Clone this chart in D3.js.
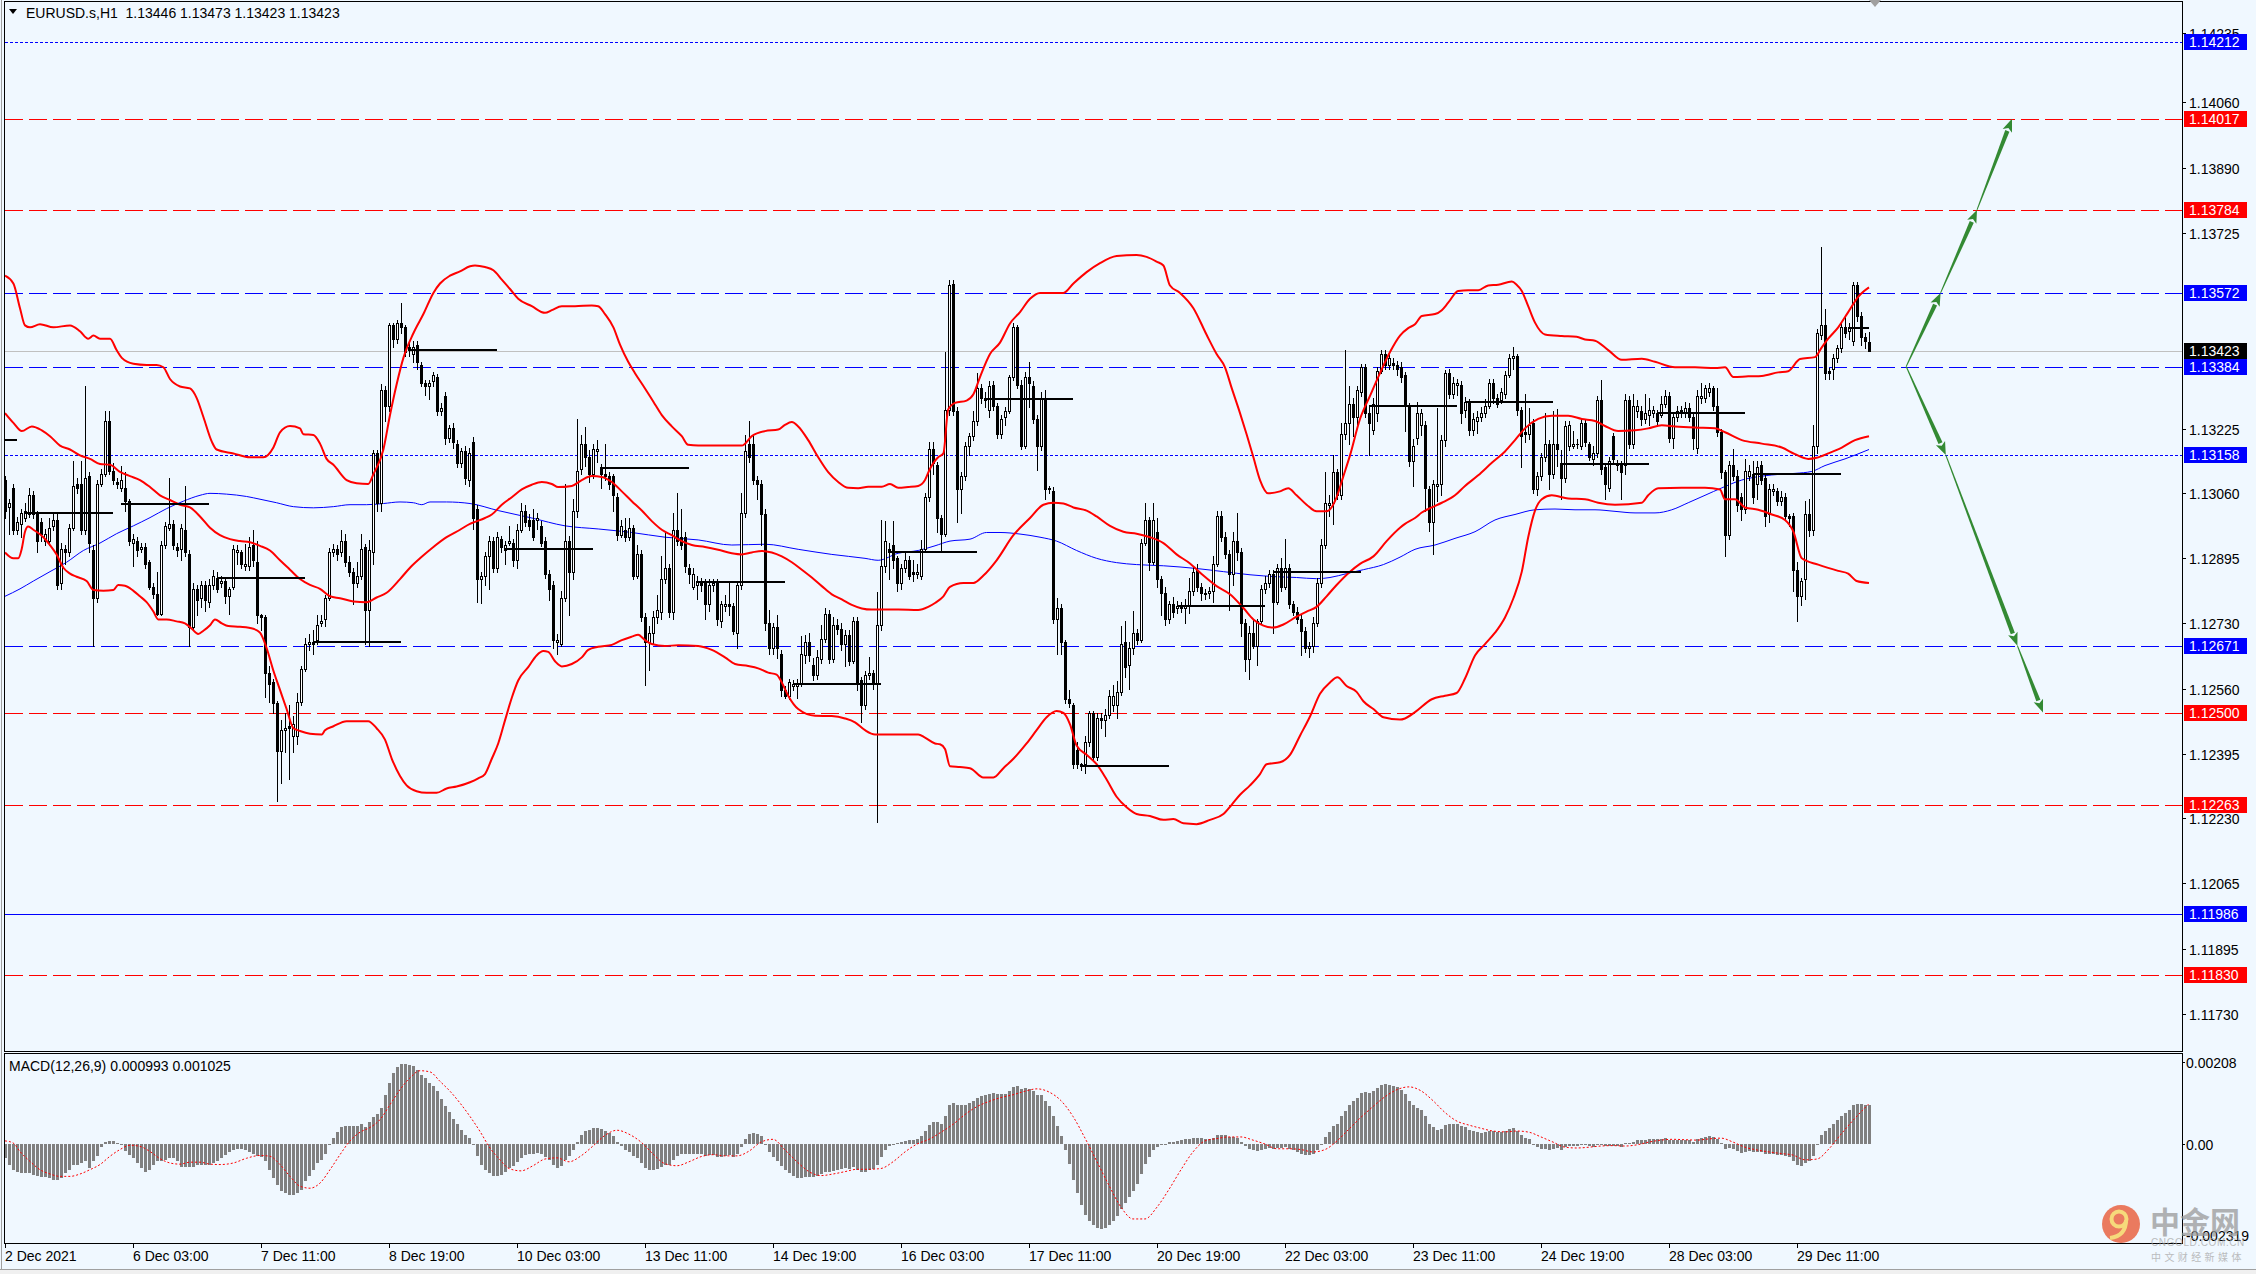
<!DOCTYPE html>
<html><head><meta charset="utf-8">
<script src="https://cdn.jsdelivr.net/npm/d3@7/dist/d3.min.js"></script>
<style>
html,body{margin:0;padding:0;background:#F0F8FF;overflow:hidden}
svg{display:block}
</style></head><body>
<svg id="chart" width="2256" height="1274"></svg>
<script>
// ---------------- DATA ----------------
const BASE = 1.12, PIP = 0.0001;            // candle / indicator values are pips above BASE
const titleText = "EURUSD.s,H1  1.13446 1.13473 1.13423 1.13423";
const macdTitle = "MACD(12,26,9) 0.000993 0.001025";
const priceTicks = [1.14235,1.14060,1.13890,1.13725,1.13225,1.13060,1.12895,1.12730,1.12560,1.12395,1.12230,1.12065,1.11895,1.11730];
const levelPrices = [1.14212,1.14017,1.13784,1.13572,1.13384,1.13158,1.12671,1.12500,1.12263,1.11986,1.11830];
const levelKinds  = ["blueDot","redDash","redDash","blueDash","blueDash","blueDot","blueDash","redDash","redDash","blueSolid","redDash"];
const lastPrice = 1.13423;
const timeTickBars = [0,32,64,96,128,160,192,224,256,288,320,352,384,416,448];
const timeLabels = ["2 Dec 2021","6 Dec 03:00","7 Dec 11:00","8 Dec 19:00","10 Dec 03:00","13 Dec 11:00","14 Dec 19:00","16 Dec 03:00","17 Dec 11:00","20 Dec 19:00","22 Dec 03:00","23 Dec 11:00","24 Dec 19:00","28 Dec 03:00","29 Dec 11:00"];
const macdTickValues = [0.00208, 0, -0.002319];
const macdTickLabels = ["0.00208","0.00","-0.002319"];

// H1 candles [open, high, low, close] in pips above 1.12000
const ohlc = [
[109.4,110.4,99.7,101.6],[102.6,104.5,95.7,103.6],[107.4,108.4,95.7,96.7],[96.7,100,95.7,98.7],[98.2,102,94.8,101.1],[99.7,103.6,99,101.6],[100.6,107.4,100,105.5],[105.5,106.5,99.7,100.6],[100.6,101.6,90.9,93.8],[98.7,99.7,93.8,95.7],
[93.8,97,92.8,95.7],[93.8,99.7,92.8,97.2],[97.7,100.6,96.7,99.2],[99.2,100.6,81.6,82.6],[83.1,93.3,81.6,91.9],[91.9,92.8,88,90.9],[90.9,98.2,90,97.2],[97.2,114.3,96.7,107.9],[108.4,110,106,107.4],[108.4,114.3,95.7,96.7],
[96.7,133.3,95.7,109.9],[110.4,111.4,90.9,93.3],[91.4,92.8,67,79.2],[79.2,109.4,78.2,108.4],[108.4,112.3,107.9,110.9],[110.9,127,110.4,124.5],[124.5,127,110.9,111.8],[111.8,113.8,108.4,109.4],[108.9,110,107.4,108.4],[107.4,113,106.5,109.4],
[107.4,111.4,101.6,104],[104,104.5,92.8,93.8],[93.3,95.7,87.5,94.3],[93.8,94.8,90,91.4],[91.9,93.3,90.9,92.3],[92.3,93.3,87,88],[88.4,88.9,81.6,82.1],[82.1,83,79.2,80.2],[80.2,86,74.8,75.3],[75.3,93.8,74.8,92.8],
[92.8,98.7,92,97.7],[97.2,109.9,96.7,98.2],[98.2,99.2,91.9,92.8],[92.3,93.3,90,91.4],[91.9,98.2,89,97.2],[96.7,107.9,90,90.9],[90.4,91.4,67,71.9],[71.9,83,71,81.6],[81.6,82.6,75,78.7],[79.2,83.6,77,82.6],
[82.6,83.6,76,78.7],[78.2,84,77,82.6],[82.6,86.5,81.6,85],[84.5,86,80.7,81.6],[83.1,85,82,83.6],[83.6,84.5,78,79.7],[79.7,82,75.3,81.6],[82.1,92.8,81.6,91.9],[90.9,92.8,88,91.4],[90.9,91.4,87,88],
[87.5,93,86.5,88],[87.5,94.8,86.5,92.3],[92.8,96.7,87.5,88.9],[88.4,93.8,72.8,74.8],[74.8,75.3,71,74.3],[74.3,75,54,60.2],[60.2,62,52.8,57.2],[57.7,58.7,50,52.4],[52.4,53,27.5,40.2],[40.2,48,32,45.5],
[45.5,50,40,46],[46.5,52,33,46],[44.1,49,40,47],[44.1,55,42,52.8],[52.8,62,52,61.1],[61.1,69,60.6,67.5],[67.5,70,66,68],[68,71,65,67.5],[68.5,75,67.5,72.3],[72.8,75,72,73.3],
[73.8,80,72,79.2],[79.2,92,78.7,90.9],[90.9,93,90,91.9],[91.9,92.8,89,90.4],[90.9,96.7,90,93.8],[93.8,95.7,87.5,88.4],[88.4,90,85,86],[86,87,77.8,83.1],[83.1,88.4,82,85],[85,95.7,84,91.9],
[92.3,93,67.5,76.3],[76.3,94,67,91.4],[90.9,117,88,116.2],[116.2,117,101.6,103.6],[103.6,134,101.6,132.3],[132.3,133.3,124.5,128.4],[128.4,149.4,127,148.9],[148.9,149.4,143.5,145.5],[145.5,150.3,144.5,149.4],[149.4,154.7,147,148.4],
[148.4,149,141,142.1],[143.5,144.5,141,142.6],[141.6,145,139.6,143.5],[143.9,145,137.7,139.6],[138.7,139.6,133.3,134.3],[134.3,135,131,133.3],[133.3,135,130,134.3],[134.8,137,133.3,136.2],[135.7,136.5,126,127],[127,129,126,127.9],
[130.8,132,118.5,120.1],[120.1,123.5,119,122.6],[122.6,124,117.7,119.2],[118.7,119.5,112.8,113.8],[113.8,117.7,112.8,116.7],[116.7,118,108.4,109.9],[109.4,117.7,107.9,116.2],[119.2,120.5,97,99.7],[102.1,103,78.2,84.1],[84.1,86,78,85],
[85,91,82.6,89.9],[89.9,95,81.6,93.8],[93.8,94.8,86,87],[87,96,86,94.8],[94.3,95,91,92.3],[91.4,93.8,88,92.8],[93.3,97.7,92.8,93.8],[93.3,94.3,87.5,88.9],[88.9,98.2,87,96.7],[96.7,103.6,96,101.6],
[101.6,103,97.7,98.7],[99.2,100.6,96.7,97.7],[99.2,102,94,94.8],[99.2,101,97,99.7],[97.7,99,92.5,93.3],[93.8,94.8,84.5,85.5],[85.5,86.5,78.7,81.6],[82.6,83.6,66.5,68.5],[68,70,65,68.5],[67.5,81,67,79.2],
[79.2,108.4,78.5,93.8],[93.8,95,75,86],[86,104.5,84,101.6],[101.6,125,100,111.8],[112.3,121,111,118.7],[118.7,123,113,115.2],[115.2,117,109,110.9],[110.9,118.5,110,117.2],[116.7,119.5,114,117.2],[112.8,113.5,107.4,110.9],
[110.9,118.5,109.5,110.4],[110.4,111.4,107,108.4],[110.4,111,101.6,105.5],[105,106,94,95.3],[95.3,99.2,94.8,97.7],[96.7,99.7,93.8,94.8],[94.8,99.7,94,97.2],[97.2,98,84,85],[85,92.8,84.5,90.4],[90.4,91.4,73.3,74.3],
[74.3,75.5,57,68],[68,72,61,70.4],[70.4,76,67.5,74.3],[74.3,80,73,76.3],[75.8,90,74,84.1],[84.1,96,83,87],[87,88,74.5,75.8],[75.8,101,74,96.7],[96.7,106,92.8,93.8],[94.8,102,91.9,92.8],
[94.8,96,86,87.5],[87,88,83,85.5],[82.1,87,81.6,85.5],[82.6,85,79,83.6],[83.1,84.5,81,82.6],[83.1,84,73.8,77.7],[77.7,84.1,76,82.6],[82.6,84,81,83.1],[83.1,84,72.3,73.8],[73.3,78.5,71.9,77.7],
[77.2,80,76,77.7],[77.7,83.6,75,77.2],[77.2,78,70,70.9],[70.4,83.6,66.5,82.6],[82.6,106,81.6,101.1],[101.1,121,100,116.7],[118.7,124.5,114,115.2],[118.7,121,108.4,109.4],[109.4,110.4,104.5,108.4],[108.4,109.5,92.8,100.6],
[100.6,102.1,71,72.8],[72.8,76.3,65,66.5],[66.5,72.8,65,71.9],[71.9,75,64,66.5],[65,66,54.3,55.8],[55.8,56.8,53.8,54.3],[54.3,58.7,53.5,57.7],[56.8,58.2,55.8,57.2],[56.8,58.7,53.8,57.2],[57.2,69.5,56.8,65],
[64.6,69.9,62.6,68],[68,70.4,63.1,64.6],[62.1,64,58.2,59.7],[59.7,66,58.7,64.1],[63.6,72.3,62.6,68.9],[68.9,76.8,68,75.3],[75.3,76.3,62.6,63.6],[63.6,74.3,63,72.3],[72.3,73.8,70,71.4],[71.4,73,66,67.5],
[67.5,71,62,69.9],[69.9,71,62.1,63.1],[63.1,74.3,62.6,73.3],[73.3,74.3,55.8,57.7],[58.2,59,47.5,51.9],[51.9,60.7,51,59.7],[59.7,64.1,58.7,60.2],[60.2,61,56,57.2],[57.2,80.7,22.1,72.3],[72.3,99.2,71,87.5],
[87.5,99,86,93.8],[91.9,93.3,84,90.9],[92.8,99,87,88.9],[89.4,90,81,83.1],[83.1,88,81.6,87],[87,91,86,88.9],[88.9,90,84,85],[86,89,83.6,85.5],[85.5,88,84.5,86],[85,94,84,91.9],
[91.9,106,91,105],[105,119,104,117.2],[117.2,119,111,113.8],[113.3,114,96,99.7],[99.7,100.5,90.9,95.7],[95.7,142,95,127.4],[127.4,160.5,126,159.1],[159.6,160.5,126,127],[127,128,98.7,107],[107,111.4,101.1,110.4],
[110.4,119.2,109.4,118.2],[118.2,121.5,115.7,120.6],[120.6,127,119.7,124.5],[124.5,136.7,123.5,132.8],[132.8,134,129,130.4],[130.4,132,128,129.9],[127.4,134.8,125.5,133.3],[133.8,134.8,127.4,128.4],[128.4,129,120.1,121.1],[121.1,126,120.1,125],
[125.5,128,123.5,127],[127,136.2,126.5,135.7],[135.7,149.4,135,148.4],[148.4,149,133,133.8],[133.8,135,117.2,118.2],[118.2,137,117.7,135.7],[135.7,139.6,128,134.3],[133.3,134.8,124,125],[125,126,112,118.2],[118.2,131.8,117,130.4],
[130.4,132.3,104.5,107],[107.4,108,106,107],[106.5,107.5,72.8,73.8],[73.8,79.2,65,76.7],[76.7,77.7,65,68],[68,68.5,52.4,53.4],[53.4,55.8,51.5,52.4],[51.9,52.4,35.8,36.8],[40.5,42.6,35.8,36.8],[36.8,37.2,35.3,36.3],
[36.8,44,34.5,42.6],[42.6,50.5,41.5,49.9],[49.9,50.5,38,38.7],[38.7,50,38,48.5],[48.5,50,46,48],[48,51,44,49.4],[49.4,55.8,48.5,54.3],[51.9,57,50.5,54.3],[51.9,58,48.5,55.3],[55.3,72,54.5,67.5],
[68,73.3,59,61.6],[62.1,68,56,66.5],[66.5,76,65,70.4],[70.4,71.4,67.5,68.5],[68.5,94.3,68,93.3],[93.3,103.6,92.8,99.2],[99.2,100,86.5,88.4],[88.4,103.6,88,99.2],[96.2,99.7,82.1,84.1],[84.1,85,74.8,80.6],
[80.6,82,72.3,73.8],[73.8,78.5,72.8,77.7],[77.7,79.5,74.5,75.8],[76.7,78.5,75.5,77.2],[77.2,78.2,75.8,76.7],[76.7,79,72.8,77.2],[77.2,84.5,75.5,81.1],[81.1,87.5,80,86],[86.5,88,81,82.1],[82.1,83,78.7,80.6],
[80.6,81.5,79,80.2],[80.6,82,79.2,81.1],[81.1,90,78.2,88],[88,101.6,87.5,100.1],[100.1,101.6,93.8,94.8],[94.8,96,89.4,90.4],[90.4,91.4,76.3,85.5],[85.5,96.2,82.6,93.8],[93.8,101.1,89,90.9],[90.9,92,69.5,72.8],
[72.8,73.8,60.7,63.6],[63.6,72,58.7,70.4],[70.4,73.8,66.5,67],[67,74,62.1,73.3],[73.3,82.6,72.8,81.6],[81.6,85,80.5,83.1],[83.1,86.5,82,85.5],[85.5,86.5,70.4,78.2],[78.2,88,77.7,87],[87,89.5,81,82.1],
[82.1,94.3,81.6,87],[87,88,76.7,77.7],[77.7,78.5,74.8,75.8],[75.8,77,72.8,73.8],[73.8,74.8,64.6,70.9],[70.9,71.9,65.5,66.5],[66.5,68,64.1,67],[67,74.3,65.5,72.8],[72.8,84.5,72,83.1],[83.1,94.3,82,92.8],
[92.8,111.4,92,103.6],[103.1,105.5,100.1,103.6],[103.6,115.7,98.2,111.4],[111.4,112.3,104.5,105.5],[105.5,124,104.5,121.1],[121.1,142.6,120,124],[124,133.3,118.5,128.9],[128.9,130.4,120.6,125.5],[125.5,133.3,123.6,132.3],[131.8,139,130.8,138.2],
[138.2,139,125.5,126.5],[126.5,128.5,115.7,124],[122.1,130.4,121.1,128.9],[126.5,138.2,124.5,137.2],[137.2,142.6,136.7,141.6],[141.6,142.6,137.7,138.7],[138.7,142,137.7,140.6],[139.2,140.6,137.7,138.7],[138.7,139.7,136.2,137.7],[138.2,139.6,134.5,135.7],
[136.2,137,122,128.4],[128.4,129,113,114.3],[114.3,120,108,118.2],[120.1,129.4,118.5,126.5],[123.5,127.5,121,126.5],[123.5,124.5,101.6,107.4],[107,108,96.5,98.7],[98.7,109.4,90.4,108.4],[107.9,127.9,104,108.4],[108.4,121,105.5,119.7],
[119.7,137.5,118,136.7],[136.7,137.7,130.4,131.3],[131.3,135.7,130.4,134.3],[133.8,135.2,131,134.3],[133.8,134.8,124,126.5],[127.4,130.5,125.5,129.4],[129.4,130,121,122.1],[122.1,126.5,121,125],[124.5,127,121.5,125.5],[125.5,128,124.5,126.5],
[126.5,130,125.5,128.4],[128.4,135.2,127.9,134.3],[134.3,135.2,129,130.4],[130.4,131.3,128,128.9],[129.9,132.8,129,131.8],[131.3,137.2,130.4,136.2],[136.2,141.6,135.7,140.6],[140.6,143.5,137.7,141.1],[141.1,141.6,126,127.4],[127.4,128,112.8,120.6],
[121.6,131.3,119,121.1],[121.1,127.9,120,123.5],[124,125,106,107],[107,111.4,105.5,110.4],[110.4,116.2,109.4,115.2],[115.2,126.5,114.3,118.7],[118.7,119.7,107,110.9],[110.9,127,110,118.7],[118.7,127.5,113,117.2],[113.8,117,104.5,109.9],
[109.9,124.5,108.9,123.1],[118.2,124.5,117,123.5],[118.2,122,117.5,118.7],[118.7,120,117.7,118.7],[118.2,125,117.2,124],[124,125,118,119.2],[118.7,119.2,114.5,115.2],[114.8,118.2,113.3,116.2],[116.2,130.8,115.2,129.9],[129.9,135,111,112.3],
[112.8,113.3,104.5,108.4],[107.4,115.2,106.5,114.3],[120.6,121.5,113.5,114.8],[113.8,114.5,112,113.3],[113.8,114.3,104.5,111.4],[113.3,131.3,110.9,129.9],[129.9,130.8,117.7,118.7],[118.7,131.3,117.5,128.4],[127,129.9,125.5,128.4],[127,128.4,123.5,125],
[125,131.3,124,126.5],[126,130.4,123.5,127.4],[126.5,128.4,125.5,127.4],[126.5,127.4,123.5,124.5],[126,130.8,125.5,128.9],[128.9,132.3,128,130.8],[130.8,131.8,119.2,120.1],[120.1,126.5,117.5,125.5],[125.5,128.4,124.5,127],[127,128.4,125.5,127.4],
[126.5,129.4,125.5,127.9],[127.9,129,124.5,125.5],[125.5,126.5,117.2,120.1],[117.7,132.3,116.2,130.8],[130.4,134.3,129,130.8],[130.4,133.8,129.4,132.8],[131.8,134.3,130.8,132.8],[132.8,133.3,127.4,128.4],[128.4,133,120.6,121.6],[121.6,122.5,110,111.4],
[111.4,112,89.9,95.3],[95.3,114.3,94.3,113.3],[113.3,117.2,109.4,110.4],[110.4,112,101.6,103.1],[105,106,99.2,102.1],[102.1,114.8,101,111.8],[110.4,113.3,109.4,111.8],[110.9,114.3,103.6,105],[108.4,114.3,104.5,112.8],[113.3,114.3,108.4,109.4],
[109.9,110.9,97.7,100.1],[100.6,108.4,98.7,107],[106.5,108.4,105.5,107],[106.5,107.4,103.1,104],[104,106.5,103.1,105],[105,106,99.2,100.1],[100.1,100.6,97.7,99.7],[100.1,101.1,81.1,86.5],[86.5,88.5,73.3,79.7],[79.7,84.5,77.5,83.6],
[84.1,104,79,100.6],[100.6,104.5,95,96.7],[96.7,123.5,95.3,118.2],[118.2,148,116.2,146.9],[146.5,168.9,145.5,148.9],[148.9,153,135.2,136.7],[137.2,138,135.2,136.7],[137.7,141.5,135.2,140.6],[140.6,144,139.6,143],[143,149.4,142,148.4],
[148.4,151.3,146,146.9],[147.4,149.4,145.5,148.4],[145,160.1,144,159.1],[159.1,160.1,150,151.3],[151.3,152.3,144,146],[146,147,143,145],[144.6,147.3,142.3,142.3]
];

// Bollinger bands and moving average: [bar index, pips]
const bbUpper = [[0,161.6],[2.1,159.6],[3.75,153.3],[5,148.9],[6.25,148.4],[8.75,149.2],[12.1,148.4],[16.25,148.9],[18.75,147.4],[20.8,145.5],[22.1,146.3],[23.75,145.5],[26.25,145.5],[27.9,142.6],[29.2,140.6],[32.1,139.1],[35.4,138.8],[37.9,138.8],[39.6,138.2],[41.25,135.2],[43.75,133.3],[46.25,132.8],[47.9,130.4],[49.6,125.5],[51.7,119.2],[52.9,117.2],[57.1,116.2],[61.25,115.2],[64.6,115.2],[67.1,117.7],[68.75,121.6],[71.25,123.2],[73.75,122.6],[74.6,121.1],[77.1,120.9],[78.75,118.7],[80.4,114.8],[82.1,113.3],[85.4,109.4],[87.9,108.6],[90.8,108.4],[92.1,110.9],[94.6,117.2],[96.25,126],[97.9,133.8],[99.6,140.6],[102.1,146.9],[104.6,151.8],[107.1,157.2],[108.75,159.6],[111.25,161.6],[113.75,162.7],[116.25,164],
[117.5,164.2],[120,163.8],[122.1,163],[124.2,160.6],[126.25,158.2],[128.3,155.7],[131.7,153.8],[135,152.1],[136.7,152.8],[139.2,153.8],[142.5,153.8],[146.7,154],[148.3,153.8],[150,151.8],[152.1,148.4],[153.75,144],[155.8,139.6],[157.5,136.7],[160,132.8],[162.1,129.4],[164.2,126],[166.7,123.1],[169.2,120.6],[170.8,118.4],[173.3,118.2],[178.3,118.2],[184.2,118.2],[186.7,120.6],[190,121.9],[193.3,122.3],[195,123.5],[196.7,124.2],[198.3,123.1],[200.8,119.6],[203.3,115.2],[205.8,111.4],[208.3,108.9],[210.8,107.4],[213.3,107.3],[215.8,107.7],[219.2,107.7],[221.25,108.4],[223.3,107.4],[225.8,107.6],[228.3,107.9],[230,109.4],[231.25,112.3],[232.5,114.3],
[233.3,115.2],[234.6,116.2],[235.8,127.4],[237.5,129.1],[240.4,129.7],[242.1,131.3],[243.75,135.7],[246.25,141.6],[248.75,144.5],[251.25,149.4],[253.75,152.3],[256.25,155.7],[258.75,157.2],[261.25,157.2],[264.6,157.2],[267.1,159.6],[270.4,162.5],[273.75,164.8],[277.9,166.6],[282.9,166.9],[285.4,166.4],[287.9,165.2],[289.6,164.2],[291.25,159.1],[293.75,157.2],[297.1,153.3],[300.4,146.5],[302.9,141.6],[305,138.2],[306.7,132.8],[308.75,126.5],[310.4,121.1],[312.1,115.2],[313.75,109.4],[315.8,106],[318.75,106.5],[320.8,107.3],[322.9,105.5],[325.4,103.1],[327.9,101.4],[330.4,101.4],[332.9,105],[334.6,110.4],[336.25,115.7],[338.75,125],[341.25,130.9],[343.75,136.7],[346.25,142.1],[348.75,146.3],
[350.8,148.2],[352.5,149.2],[354.2,151.3],[357.5,151.8],[359.2,152.8],[360.8,154.7],[363.3,157.7],[365.8,157.9],[368.3,157.9],[370.8,159.1],[373.3,159.3],[376.7,160.1],[377.9,159.3],[379.2,157.7],[380.8,153.8],[382.5,149.6],[385,146.6],[389.2,146.2],[392.9,146],[395,145.3],[397.5,145],[400.8,142.6],[404.2,140.1],[409.2,140.4],[412.5,139.6],[417.5,138.2],[422.5,138.2],[427.5,138],[430,138.2],[432.1,135.7],[435.8,135.9],[439.2,136],[443.3,136.9],[445.8,137.2],[448.75,140.3],[452.5,140.8],[454.2,143.3],[455.8,145.5],[458.3,148.4],[460.8,152.3],[463.3,156.2],[466,158.6]];
const bbMiddle = [[0,126.5],[2.1,124],[4.2,121.9],[6.7,123.1],[9.2,122.1],[11.25,120.6],[13.75,118.2],[16.25,117.2],[18.75,115.7],[21.25,114.8],[23.75,113.5],[26.25,113.3],[28.75,111.5],[31.25,110.4],[33.75,109.4],[36.25,107.6],[38.75,105.5],[41.25,104.3],[43.75,103.1],[46.25,102.4],[48.75,100.1],[51.25,97.2],[53.75,95.3],[56.25,94.3],[58.75,93.8],[61.25,93.5],[63.75,92.6],[66.25,91.4],[68.75,88.9],[71.25,86.5],[73.75,84.1],[76.25,82.6],[78.75,81.6],[81.25,79.7],[83.75,79.2],[87.1,78.4],[90.4,78.2],[92.9,79.4],[95.4,80.6],[98.75,84.1],[101.25,87],[103.75,89.4],[107.1,92.3],[110.4,94.8],[113.75,96.7],[116.25,98.2],
[117.5,98.7],[120,99.7],[121.7,100.6],[124.2,103.1],[126.7,105],[129.2,107],[131.7,108.2],[134.2,108.9],[136.7,108.4],[138.3,107.6],[141.7,107.9],[144.2,109.4],[146.7,110.4],[149.2,110.2],[151.7,108.9],[154.2,106.5],[156.7,104],[159.2,101.6],[161.7,98.9],[164.2,96.7],[166.7,95.3],[169.2,93.8],[171.7,92.8],[175,92.3],[178.3,91.6],[181.7,90.7],[184.2,90.4],[186.7,90.9],[189.2,91.3],[191.7,90.9],[194.2,89.9],[196.7,88.4],[199.2,86.5],[201.7,84.5],[204.2,82.3],[206.7,80.2],[209.2,78.9],[211.7,77.5],[214.2,76.6],[216.7,76.3],[219.2,76.3],[223.3,76.3],[228.3,76.2],[230.8,77],[232.5,78],
[234.6,79.7],[236.25,82.1],[239.6,83.1],[242.1,83.1],[244.6,85],[247.9,88.9],[252.1,95.3],[256.25,99.7],[259.6,103.1],[262.1,103.6],[264.6,103.4],[267.1,102.4],[270.4,101.6],[272.9,100.1],[276.25,97.7],[279.6,96.2],[282.9,95.7],[286.25,94.8],[289.6,93.3],[292.9,90.4],[296.25,88.1],[299.6,85],[302.9,82.3],[306.25,80.2],[309.6,76.7],[312.1,73.8],[314.6,72.2],[317.1,71.7],[319.6,72.5],[322.9,74.5],[325.4,75.8],[327.9,77],[330.4,79.7],[332.9,82.6],[336.25,86],[338.75,88],[342.1,89.9],[345.4,93.8],[348.75,97.2],
[350,98.2],[352.5,99.7],[354.2,101.1],[356.7,102.4],[359.2,103.6],[362.5,105.5],[365,107.9],[368.3,110.6],[371.7,113.8],[375,116.7],[377.5,119.6],[380,122.6],[383.3,125],[386.7,125.8],[390.8,125.8],[394.2,125],[397.5,124.5],[400,123.2],[403.3,121.9],[407.5,122.1],[410.8,122.6],[414.2,123.4],[417.5,123.1],[422.5,122.8],[427.5,122.6],[430,121.6],[434.2,119.6],[439.2,118.7],[444.2,117.7],[447.5,116],[450.8,114.8],[452.9,115.1],[455.8,116.2],[459.2,117.7],[462.5,119.6],[466,120.6]];
const bbLower = [[0,90.9],[2.1,89.4],[3.3,89.4],[4.2,91.9],[5,96.2],[5.8,97.5],[7.1,96.7],[9.6,94.8],[11.25,92.8],[12.9,90.4],[14.6,87],[16.25,85.5],[17.9,84.7],[20.4,83.6],[22.1,81.3],[24.6,81.1],[27.1,81.3],[28.3,82.6],[30,82.4],[32.1,81.1],[33.75,79.7],[35.4,78.2],[37.1,75.8],[38.3,73.8],[40.4,73.8],[42.9,73.3],[45,72.8],[46.7,71.4],[48.3,70.1],[49.6,70.9],[51.25,72.3],[52.5,73.8],[54.2,72.8],[55.8,72.1],[58.75,71.9],[62.1,71.4],[63.75,70.4],[65.4,66.5],[67.1,60.7],[68.75,55.8],[70.4,50.9],[72.1,46],[73.75,45.3],[76.25,44.6],[79.2,44.4],[80,45.5],[82.1,46.5],[85.4,47.8],[90.8,47.8],[92.9,46],[95,43.1],[96.7,38.2],[98.75,33.8],[100.4,31.4],[102.9,29.9],[105.4,29.5],[107.9,29.5],[110.4,30.6],[112.9,31.1],[116.25,32.2],
[118.3,33.2],[120,34.3],[121.7,38.2],[123.3,42.1],[125,48],[126.7,53.8],[128.3,58.2],[130.8,61.6],[132.9,64.6],[134.6,65.7],[135.8,65.5],[137.5,63.1],[139.2,61.8],[141.7,62.4],[144.2,64.1],[145.8,66],[148.3,66.8],[151.7,67.3],[154.2,68.5],[156.7,69.4],[158.3,69.9],[160,68.5],[161.7,67.5],[165,67],[168.3,67.2],[173.3,67],[176.7,66],[180,64.1],[182.5,62.4],[185.8,61.9],[188.3,61.3],[190.8,60.2],[192.9,59.7],[194.2,57.7],[195.8,54.3],[198.3,50.9],[202.5,49.2],[206.7,49.1],[210,48.5],[212.5,47.5],[215,45.5],[217.5,44.4],[223.3,44.4],[228.3,44.4],[230,43.6],[232.5,42.1],
[233.75,41.9],[235,40.7],[236.25,36.3],[238.75,36.1],[241.25,35.8],[244.6,33.4],[247.1,33.4],[249.6,35.8],[252.1,38.2],[255.4,42.1],[257.9,45.5],[260.4,48.8],[262.9,50.4],[264.6,49.9],[266.25,47],[267.9,41.6],[270.4,39.2],[272.9,36.8],[275.4,32.9],[277.9,28.5],[280.4,25.8],[282.9,24.1],[286.25,23.6],[289.6,22.6],[292.1,22.8],[294.6,21.7],[297.9,21.5],[301.25,22.6],[304.6,24.1],[306.7,26.5],[308.75,29],[311.25,31.4],[313.75,34.3],[315.4,36.8],[318.75,37.3],[321.25,39.2],[323.75,44.1],[326.25,49],[328.75,54.8],[331.25,57.7],[333.1,59],[335.4,56.8],[337.9,55.3],[339.6,52.9],[342.1,50.9],[344.6,48.8],[348.75,48.2],
[350,48.5],[352.5,50.1],[356.7,53.4],[360,54.3],[362.9,55],[365,58.7],[367.5,64.6],[370,67.5],[372.5,70.4],[375,74.3],[377.1,79.2],[379.2,86],[380.8,94.8],[382.5,101.6],[384.2,104.5],[386.7,105.5],[390.8,104.7],[395,104.5],[398.3,103.6],[402.5,103.1],[409.2,103.6],[410.8,105.5],[413.3,107.3],[419.2,107.4],[425,107.4],[428.75,107],[430,104.5],[432.5,104.5],[435,102.4],[438.3,101.8],[441.7,100.6],[445,99.2],[447.1,96.2],[449.2,89.4],[453.3,87.8],[458.3,86.2],[460.8,85.5],[462.9,83.6],[466,83.1]];
const maBlue = [[0,79.7],[3.75,81.6],[7.1,83.6],[11.25,86],[15.4,88.4],[19.6,91.4],[23.75,93.3],[27.9,95.7],[32.1,97.7],[36.25,99.8],[40.4,102.1],[44.6,104],[48.75,105.5],[51.25,106],[55.4,105.8],[60.4,105.2],[63.75,104.5],[67.9,103.6],[72.1,102.6],[77.1,102.3],[82.1,102.6],[86.25,103.1],[90.4,103.1],[94.6,103.4],[98.75,103.8],[102.1,103.6],[104.2,103.1],[106.25,103.8],[110.4,103.8],[116.25,103.4],[123.3,101.6],[131.7,99.7],[140,97.7],[148.3,96.9],[156.7,96],[165,94.8],[173.3,94.1],[181.7,92.8],[190,93],[198.3,91.7],[206.7,90.4],[215,89.4],[218.3,88.9],[223.3,90.7],[228.3,91.4],[232.5,92.6],[236.25,93.8],[241.25,94.3],[245.4,96],[248.75,96],[253.75,95.6],[258.75,94.8],[262.9,93.8],[267.9,91.4],[272.9,89.4],[277.9,88.3],[282.9,87.8],[289.6,87.5],[297.9,86.8],[304.6,86],[311.25,85.2],[317.9,84.7],[322.9,84.5],[327.9,84.2],[331.25,84.5],[335.4,85.5],[339.6,86.5],[344.6,87.8],[348.75,89.7],[352.5,91.7],[357.5,92.8],[362.5,94.5],[367.5,96.2],[372.5,99.2],[377.5,100.6],[382.5,101.8],[387.5,102],[392.5,101.8],[397.5,101.8],[402.5,101.4],[407.5,101],[412.5,101],[416.7,101.8],[420.8,103.6],[425,105.5],[429.2,107.4],[434.2,109.4],[439.2,110.4],[444.2,110.9],[447.5,111.1],[451.7,111.6],[455,113.1],[460,114.8],[466,117.2]];

// daily open segments: [start bar, end bar, pips]
const dailyOpen = [[-19,3,119.6],[5,27,101.1],[29,51,103.3],[53,75,84.5],[77,99,68],[101,123,142.7],[125,147,91.7],[149,171,112.5],[173,195,83.3],[197,219,57.2],[221,243,91.1],[245,267,130.1],[269,291,36.3],[293,315,77.2],[317,339,86],[341,363,128.4],[365,387,129.4],[389,411,113.5],[413,435,126.5],[437,459,110.9],[461,466,148.2]];

// MACD histogram, units of 0.00001
const macdHist = [
-35.5,-52,-65,-71,-74,-74,-74,-78,-82,-84,-84,-86,-90.5,-90.5,-86,-74,-65,-52,-52,-48,
-42,-61,-44,-31,-8,4,7,7,3,0,-17,-27,-36,-48,-61,-71,-65,-52,-44,-42,
-40,-36,-36,-44,-57,-59,-59,-57,-54,-52,-52,-52,-48,-42,-36,-27,-20,-14,-12,-12,
-14,-19,-25,-31,-34,-44,-65,-86,-103,-120,-124,-129,-130,-124,-116,-95,-82,-65,-48,-40,
-25,-3,15,30,42,47,47,45,45,51,42,56,68,76,91,125,155,180,195,203,
203,200,197,189,176,168,155,146,134,113,96,81,64,51,36,24,15,0,-31,-54,
-65,-74,-80,-80,
-78,-72,-62,-55,-45,-35,-28,-25,-25,-22,
-25,-32,-40,-52,-60,-55,-40,-30,-15,5,
22,32,36,40,40,38,33,28,20,5,
-5,-15,-20,-30,-35,-48,-60,-65,-66,-64,
-58,-52,-54,-40,-30,-25,-24,-24,-24,-25,
-26,-30,-29,-28,-33,-32,-30,-28,-32,-24,
-8,12,25,28,26,20,-2,-20,-32,-42,
-55,-66,-74,-80,-85,-86,-84,-83,-83,-80,
-76,-70,-72,-68,-65,-64,-62,-63,-58,-66,
-72,-70,-66,-64,-52,-32,-15,-5,0,2,
4,8,10,11,13,20,32,48,56,56,
52,70,100,105,100,98,100,104,110,118,
122,124,128,130,128,126,128,134,145,148,
140,142,140,135,125,124,110,96,70,45,
20,-15,-50,-90,-125,-155,-180,-195,-205,-212,
-215,-212,-205,-195,-182,-165,-150,-135,-118,-102,
-75,-50,-32,-15,-8,-2,0,4,6,8,
10,12,14,16,16,15,14,13,15,22,
24,22,18,18,16,6,-6,-12,-16,-18,
-16,-12,-10,-12,-10,-10,-8,-12,-16,-20,
-24,-28,-28,-24,-14,0,18,30,45,52,
70,85,100,108,118,130,132,130,134,142,
150,152,150,148,145,138,128,110,98,92,
86,70,52,42,36,38,48,50,52,52,
46,42,35,32,30,29,30,34,33,31,
31,34,38,40,32,22,15,12,0,-8,
-12,-12,-15,-12,-10,-14,-8,-5,-5,-5,
-2,-3,-6,-7,0,-2,-6,-6,-5,-6,
-8,2,2,6,9,10,11,12,13,12,
14,16,10,9,10,10,11,10,6,12,
16,19,21,19,13,2,-12,-10,-12,-18,
-22,-20,-18,-20,-19,-20,-26,-26,-26,-27,
-27,-30,-32,-42,-52,-56,-48,-44,-30,0,
22,32,40,50,60,72,80,86,98,102,
102,100,99];
// MACD signal line: [bar, value in 0.00001]
const macdSignal = [[0,8],[2,3],[3.75,-19],[6.25,-44],[8.75,-65],[11.25,-76],[13.75,-82],[16.25,-82],[18.75,-76],[21.25,-65],[23.75,-52],[26.25,-31],[28.75,-14],[31.25,-3],[33.75,-6],[36.25,-19],[38.75,-37],[41.25,-48],[43.75,-51],[46.25,-46],[48.75,-46],[51.25,-51],[53.75,-52],[57.1,-48],[60.4,-36],[63.75,-29],[66.25,-31],[68.75,-52],[71.25,-82],[73.75,-107],[76.25,-112],[78.75,-99],[81.25,-65],[83.75,-27],[86.25,8],[88.75,30],[91.25,42],[93.75,62],[96.25,100],[98.75,138],[101.25,168],[103.75,186],[106.25,183],[108.75,159],[111.25,134],[113.75,104],[116.25,70],[118.75,32],[121.25,-10],[123.75,-40],
[126,-62],[129,-68],[132,-55],[135,-38],[138,-35],[141,-45],[144,-30],[147,-5],[150,22],[153,35],[156,25],[159,5],[162,-25],[165,-50],[168,-55],[171,-45],[174,-32],[177,-27],[180,-30],[183,-30],[186,-18],[189,5],[192,12],[195,-15],[198,-45],[201,-70],[204,-80],[207,-76],[210,-70],[213,-64],[216,-64],[219,-62],[222,-45],[225,-20],[228,0],[231,12],[234,30],[237,50],[240,75],[243,95],[246,108],[249,118],[252,125],[255,134],[258,140],[261,132],[264,110],[267,70],[270,15],[273,-45],[276,-105],[279,-160],[282,-190],[285,-190],[288,-160],[291,-115],[294,-65],[297,-20],[300,8],[303,14],[306,18],[309,18],[312,10],[315,0],[318,-12],[321,-12],[324,-14],[327,-20],[330,-14],[333,8],[336,38],[339,68],[342,95],[345,120],[348,138],[351,145],[354,135],[357,110],[360,80],[363,58],[366,48],[369,40],[372,33],[375,31],[378,33],[381,30],[384,18],[387,5],[390,-8],[393,-10],[396,-8],[399,-5],[402,-4],[405,-5],[408,-2],[411,5],[414,10],[417,12],[420,11],[423,10],[426,13],[429,15],[432,5],[435,-8],[438,-15],[441,-20],[444,-24],[447,-28],[450,-40],[453,-38],[456,-12],[459,25],[462,60],[466,102.5]];

// forecast arrows: [bar, price]
const arrowUp   = [[475.3,1.13384],[483.9,1.13572],[493,1.13784],[501.75,1.14017]];
const arrowDown = [[475.3,1.13384],[485.2,1.13158],[503.1,1.12671],[509.5,1.12500]];

// ---------------- DRAWING ----------------
const FONT = "'Liberation Sans', Arial, sans-serif";
const BG = "#F0F8FF";
const svg = d3.select("#chart");
const px = v => BASE + v * PIP;

svg.append("rect").attr("x",0).attr("y",0).attr("width",2256).attr("height",1274).attr("fill",BG);

const x  = d3.scaleLinear().domain([0,466]).range([5,1869]);
const y  = d3.scaleLinear().domain([1.116355,1.14310]).range([1051,4]);
const ym = d3.scaleLinear().domain([-0.00251,0.002284]).range([1243,1054]);

const defs = svg.append("defs");
defs.append("clipPath").attr("id","clipMain").append("rect").attr("x",5).attr("y",2).attr("width",2177).attr("height",1049);
defs.append("clipPath").attr("id","clipMacd").append("rect").attr("x",5).attr("y",1054).attr("width",2177).attr("height",189);

const main = svg.append("g").attr("clip-path","url(#clipMain)");

// horizontal levels
const levelStyle = {
  blueDot:  {c:"#0000FF", d:"3,2"},
  blueDash: {c:"#0000FF", d:"18,6"},
  blueSolid:{c:"#0000FF", d:null},
  redDash:  {c:"#FF0000", d:"18,6"}
};
const lv = main.append("g").attr("shape-rendering","crispEdges");
levelPrices.forEach((p,i)=>{
  const st = levelStyle[levelKinds[i]];
  const yy = Math.round(y(p)) + 0.5;
  const l = lv.append("line").attr("x1",5).attr("x2",2182).attr("y1",yy).attr("y2",yy)
    .attr("stroke",st.c).attr("stroke-width",1);
  if (st.d) l.attr("stroke-dasharray",st.d);
});
// last price line
lv.append("line").attr("x1",5).attr("x2",2182)
  .attr("y1",Math.round(y(lastPrice))+0.5).attr("y2",Math.round(y(lastPrice))+0.5)
  .attr("stroke","#C0C0C0").attr("stroke-width",1);

// moving average (blue)
const lineGen = d3.line().x(d=>x(d[0])).y(d=>y(px(d[1]))).curve(d3.curveMonotoneX);
main.append("path").attr("d",lineGen(maBlue)).attr("fill","none").attr("stroke","#0000FF").attr("stroke-width",1);

// candles
const cg = main.append("g").attr("shape-rendering","crispEdges");
ohlc.forEach((d,i)=>{
  const o=px(d[0]), h=px(d[1]), l=px(d[2]), c=px(d[3]);
  const xi = Math.round(x(i));
  const hi = Math.max(h,o,c), lo = Math.min(l,o,c);
  cg.append("line").attr("x1",xi+0.5).attr("x2",xi+0.5)
    .attr("y1",Math.round(y(hi))).attr("y2",Math.round(y(lo))+1)
    .attr("stroke","#000").attr("stroke-width",1);
  const top = Math.round(y(Math.max(o,c))), bot = Math.round(y(Math.min(o,c)));
  if (bot - top < 2) {
    cg.append("rect").attr("x",xi-1).attr("y",top).attr("width",3).attr("height",Math.max(1,bot-top+1)).attr("fill","#000");
  } else if (c >= o) {
    cg.append("rect").attr("x",xi-0.5).attr("y",top+0.5).attr("width",2).attr("height",bot-top)
      .attr("fill","#FFFFFF").attr("stroke","#000").attr("stroke-width",1);
  } else {
    cg.append("rect").attr("x",xi-1).attr("y",top).attr("width",3).attr("height",bot-top+1).attr("fill","#000");
  }
});

// Bollinger bands (red)
[bbUpper,bbMiddle,bbLower].forEach(b=>{
  main.append("path").attr("d",lineGen(b)).attr("fill","none").attr("stroke","#FF0000").attr("stroke-width",2);
});

// daily open segments
const dg = main.append("g").attr("shape-rendering","crispEdges");
dailyOpen.forEach(s=>{
  const yy = Math.round(y(px(s[2])));
  dg.append("line").attr("x1",x(s[0])).attr("x2",x(s[1])).attr("y1",yy).attr("y2",yy)
    .attr("stroke","#000").attr("stroke-width",2);
});

// forecast arrows
function drawArrow(g, p0, p1, col){
  const ax = x(p0[0]), ay = y(p0[1]), bx = x(p1[0]), by = y(p1[1]);
  const dx = bx-ax, dy = by-ay, len = Math.hypot(dx,dy);
  const ux = dx/len, uy = dy/len, nx = -uy, ny = ux;
  const headL = 13, headW = 5, w0 = 0.5, w1 = 2.2;
  const cx = bx - ux*headL, cy = by - uy*headL;
  const shaft = [[ax+nx*w0, ay+ny*w0],[cx+nx*w1, cy+ny*w1],[cx-nx*w1, cy-ny*w1],[ax-nx*w0, ay-ny*w0]];
  g.append("polygon").attr("points",shaft.map(p=>p.join(",")).join(" ")).attr("fill",col);
  const head = [[bx,by],[cx+nx*headW, cy+ny*headW],[cx+ux*3, cy+uy*3],[cx-nx*headW, cy-ny*headW]];
  g.append("polygon").attr("points",head.map(p=>p.join(",")).join(" ")).attr("fill",col);
}
const ag = main.append("g");
const arrowColor = "#338A33";
[arrowUp, arrowDown].forEach(path=>{
  for (let k=0;k<path.length-1;k++) drawArrow(ag, path[k], path[k+1], arrowColor);
});

// ---------- MACD ----------
const mg = svg.append("g").attr("clip-path","url(#clipMacd)");
const hg = mg.append("g").attr("shape-rendering","crispEdges");
const y0 = Math.round(ym(0));
macdHist.forEach((v,i)=>{
  const xi = Math.round(x(i));
  const yv = Math.round(ym(v*1e-5));
  const top = Math.min(y0,yv), hgt = Math.max(1, Math.abs(yv-y0));
  hg.append("rect").attr("x",xi-1).attr("y",top).attr("width",3).attr("height",hgt).attr("fill","#808080");
});
const sigGen = d3.line().x(d=>x(d[0])).y(d=>ym(d[1]*1e-5)).curve(d3.curveMonotoneX);
mg.append("path").attr("d",sigGen(macdSignal)).attr("fill","none").attr("stroke","#FF0000")
  .attr("stroke-width",1).attr("stroke-dasharray","2,2");

// ---------- frames ----------
const fr = svg.append("g").attr("shape-rendering","crispEdges").attr("fill","none").attr("stroke","#000");
fr.append("rect").attr("x",4.5).attr("y",1.5).attr("width",2178).attr("height",1050);
fr.append("rect").attr("x",4.5).attr("y",1053.5).attr("width",2178).attr("height",190);
svg.append("line").attr("x1",1.5).attr("x2",1.5).attr("y1",0).attr("y2",1274).attr("stroke","#A0A0A0").attr("shape-rendering","crispEdges");
svg.append("line").attr("x1",0).attr("x2",2256).attr("y1",1269.5).attr("y2",1269.5).attr("stroke","#A0A0A0").attr("shape-rendering","crispEdges");
svg.append("rect").attr("x",0).attr("y",1270).attr("width",2256).attr("height",4).attr("fill","#F0F0F0");

// ---------- price axis ----------
const pa = svg.append("g").attr("font-family",FONT).attr("font-size",14);
priceTicks.forEach(p=>{
  const yy = Math.round(y(p))+0.5;
  pa.append("line").attr("x1",2182).attr("x2",2186).attr("y1",yy).attr("y2",yy).attr("stroke","#000").attr("shape-rendering","crispEdges");
  pa.append("text").attr("x",2189).attr("y",yy+5).attr("fill","#000").text(d3.format(".5f")(p));
});
// level labels
const levelFill = {blueDot:"#0000FF",blueDash:"#0000FF",blueSolid:"#0000FF",redDash:"#FF0000"};
function priceBox(p, fill){
  const yy = Math.round(y(p));
  pa.append("rect").attr("x",2184).attr("y",yy-8).attr("width",63).attr("height",16).attr("fill",fill);
  pa.append("text").attr("x",2189).attr("y",yy+5).attr("fill","#FFFFFF").text(d3.format(".5f")(p));
}
levelPrices.forEach((p,i)=>{ if (p !== 1.13384) priceBox(p, levelFill[levelKinds[i]]); });
priceBox(lastPrice, "#000000");
priceBox(1.13384, "#0000FF");

// MACD axis
macdTickValues.forEach((v,i)=>{
  const yy = Math.round(ym(v))+0.5;
  pa.append("line").attr("x1",2182).attr("x2",2185).attr("y1",yy).attr("y2",yy).attr("stroke","#000").attr("shape-rendering","crispEdges");
  pa.append("text").attr("x",2186).attr("y",yy+5).attr("fill","#000").text(macdTickLabels[i]);
});

// ---------- time axis ----------
const ta = svg.append("g").attr("font-family",FONT).attr("font-size",14);
timeTickBars.forEach((b,i)=>{
  const xx = Math.round(x(b))+0.5;
  ta.append("line").attr("x1",xx).attr("x2",xx).attr("y1",1244).attr("y2",1248).attr("stroke","#000").attr("shape-rendering","crispEdges");
  ta.append("text").attr("x",xx-0.5).attr("y",1261).attr("fill","#000").text(timeLabels[i]);
});

// ---------- titles ----------
svg.append("polygon").attr("points","9,9 17,9 13,14").attr("fill","#000");
svg.append("text").attr("x",26).attr("y",18).attr("font-family",FONT).attr("font-size",14).attr("fill","#000")
  .attr("xml:space","preserve").style("white-space","pre").text(titleText);
svg.append("text").attr("x",9).attr("y",1071).attr("font-family",FONT).attr("font-size",14).attr("fill","#000").text(macdTitle);

// chart-shift marker
svg.append("polygon").attr("points","1869,0 1881,0 1875,7").attr("fill","#A0A0A0");

// ---------- watermark ----------
const wm = svg.append("g").attr("opacity",0.75);
wm.append("circle").attr("cx",2121).attr("cy",1224).attr("r",19).attr("fill","#E8502A");
wm.append("circle").attr("cx",2119).attr("cy",1219).attr("r",7.5).attr("fill","none").attr("stroke","#F8D050").attr("stroke-width",4);
wm.append("path").attr("d","M2126,1220 Q2126,1236 2110,1238").attr("fill","none").attr("stroke","#F8D050").attr("stroke-width",4);
wm.append("text").attr("x",2150).attr("y",1233).attr("font-family","'Noto Sans CJK SC', sans-serif").attr("font-weight","bold")
  .attr("font-size",30).attr("fill","#9A9A9A").text("中金网");
wm.append("text").attr("x",2151).attr("y",1246).attr("font-family",FONT).attr("font-size",10).attr("letter-spacing",0.6)
  .attr("fill","#A8A8A8").text("CNGOLD.COM.CN");
wm.append("text").attr("x",2151).attr("y",1261).attr("font-family","'Noto Sans CJK SC', sans-serif").attr("font-size",10)
  .attr("letter-spacing",3.4).attr("fill","#A8A8A8").text("中文财经新媒体");
</script>
</body></html>
